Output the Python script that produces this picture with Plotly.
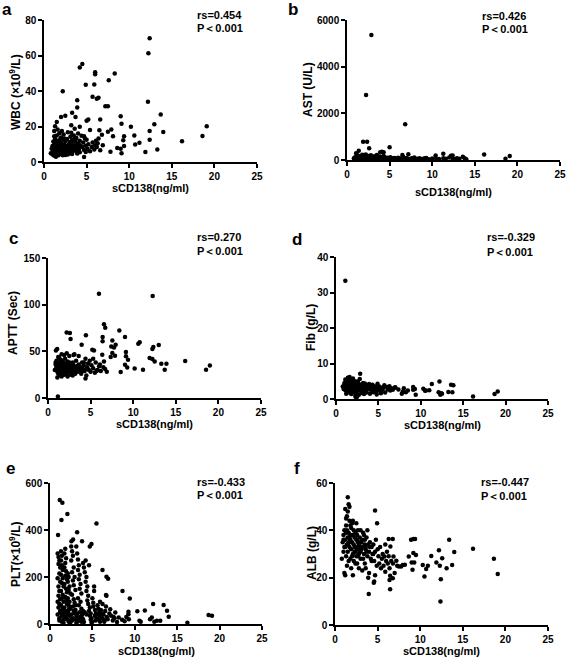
import plotly.graph_objects as go

# ---------------- data ----------------
wbc_x = [
0.8,0.9,1.0,1.0,1.1,1.1,1.2,1.2,1.3,1.3,
1.3,1.4,1.4,1.5,1.5,1.5,1.6,1.6,1.7,1.7,
1.8,1.8,1.8,1.9,1.9,2.0,2.0,2.0,2.1,2.1,
2.2,2.2,2.3,2.3,2.4,2.4,2.5,2.5,2.5,2.6,
2.7,2.7,2.8,2.8,2.9,2.9,3.0,3.0,3.1,3.1,
3.2,3.2,3.3,3.3,3.4,3.5,3.5,3.6,3.6,3.7,
3.8,3.8,3.9,4.0,4.0,4.1,4.2,4.2,4.3,4.4,
4.5,4.6,4.7,4.8,4.9,5.0,5.1,5.2,5.4,5.6,
5.7,5.9,6.0,6.1,6.3,1.1,1.2,1.4,1.6,1.7,
1.9,2.0,2.2,2.3,2.6,2.8,3.0,3.3,3.5,3.9,
1.0,1.2,1.5,1.8,2.1,2.4,2.7,3.2,3.6,4.1,
12.4,12.25,12.2,13.7,12.95,14.0,12.4,12.4,13.3,11.9,
16.2,18.6,19.1,10.2,10.6,10.7,11.2,9.0,9.1,9.4,
9.3,9.4,9.0,9.1,8.6,8.3,7.6,7.9,7.5,8.1,
7.8,7.2,7.5,6.8,6.9,6.6,6.5,6.6,6.0,6.0,
5.9,6.4,6.2,5.7,5.4,6.4,6.2,5.0,5.2,4.9,
4.5,4.2,2.2,3.9,3.9,3.3,3.7,2.5,2.0,1.5,
1.3,1.6,1.2,3.2,4.2,3.6,4.7,4.7,4.9]
wbc_y = [
5.0,7.5,4.2,9.0,6.1,11.5,3.5,8.2,5.8,13.0,
7.0,4.8,10.2,6.5,8.8,15.0,5.2,12.0,3.8,9.5,
6.8,11.0,16.2,5.5,8.0,4.5,10.5,13.8,7.2,9.8,
5.8,12.5,8.5,15.5,6.2,10.0,4.0,7.8,11.8,9.0,
5.5,13.0,7.5,16.8,9.8,6.0,11.2,8.2,5.0,14.2,
7.0,10.5,5.8,12.2,8.8,6.5,15.0,9.5,7.2,11.5,
6.0,13.5,8.0,10.2,16.0,7.0,12.0,5.5,9.0,14.8,
8.5,11.0,6.8,13.2,9.2,12.5,7.5,10.0,6.0,8.5,
11.0,7.0,9.5,12.0,10.5,6.8,10.8,3.0,7.6,5.0,
12.8,6.8,3.8,7.0,5.4,4.2,9.5,4.5,11.8,4.8,
8.0,14.5,10.8,8.5,17.5,13.2,8.8,16.5,13.5,9.8,
69.7,61.2,33.9,26.7,21.3,16.9,17.5,12.6,7.0,5.6,
11.7,14.7,20.1,19.8,15.0,9.8,10.9,25.8,21.6,14.5,
12.2,9.0,7.5,5.0,7.9,49.9,46.1,18.3,17.0,14.5,
5.8,31.4,31.4,15.3,9.4,23.9,17.9,6.6,50.5,49.5,
43.7,36.2,35.6,36.7,18.0,13.2,8.5,23.2,23.9,43.5,
55.2,53.3,39.9,34.8,30.7,27.7,25.4,26.0,25.4,22.6,
20.1,18.3,17.5,20.7,19.8,18.8,14.5,2.8,5.6]

ast_x = [
0.8,0.9,1.0,1.1,1.2,1.2,1.3,1.4,1.5,1.5,
1.6,1.7,1.8,1.8,1.9,2.0,2.0,2.1,2.2,2.2,
2.3,2.4,2.4,2.5,2.6,2.6,2.7,2.8,2.9,3.0,
3.0,3.1,3.2,3.3,3.4,3.5,3.5,3.6,3.7,3.8,
3.9,4.0,4.1,4.2,4.3,4.4,4.5,4.6,4.8,5.0,
5.1,5.3,5.5,5.6,5.8,6.0,6.2,6.4,6.6,6.8,
7.0,7.3,7.6,7.9,8.2,8.5,8.8,9.1,9.3,9.6,
10.0,10.4,10.8,11.3,11.6,12.0,12.2,12.4,12.6,12.9,
13.2,13.6,13.8,14.0,1.0,1.3,1.6,1.9,2.1,2.5,
2.8,3.2,3.6,4.0,4.7,5.2,6.1,6.9,8.0,9.4,
2.86,2.24,6.83,1.89,2.36,2.6,5.0,1.38,1.07,3.9,
4.3,6.5,7.2,16.1,19.1,18.6,12.4,11.3,10.4,4.1]
ast_y = [
60,110,40,150,80,200,55,120,90,170,
45,130,75,230,100,60,160,85,120,240,
50,95,180,70,140,35,110,200,65,130,
90,55,160,80,120,45,210,100,70,150,
60,130,90,50,170,75,110,40,95,60,
120,70,40,90,55,100,80,45,130,60,
90,40,70,110,50,80,40,70,90,35,
60,90,45,80,55,110,180,60,30,75,
50,140,70,35,20,30,25,15,20,25,
20,30,15,25,30,20,25,30,20,15,
5357,2786,1530,784,784,500,543,400,286,330,
330,214,243,240,170,57,198,269,198,350]

aptt_x = [
0.8,0.9,1.0,1.0,1.1,1.1,1.2,1.2,1.3,1.3,
1.4,1.4,1.5,1.5,1.5,1.6,1.6,1.7,1.7,1.8,
1.8,1.9,1.9,2.0,2.0,2.1,2.1,2.2,2.2,2.3,
2.3,2.4,2.4,2.5,2.5,2.6,2.7,2.7,2.8,2.9,
3.0,3.0,3.1,3.2,3.3,3.3,3.4,3.5,3.6,3.7,
3.8,3.9,4.0,4.1,4.2,4.3,4.4,4.5,4.6,4.7,
4.8,5.0,5.1,5.3,5.5,5.6,5.8,6.0,6.2,6.5,
6.7,6.9,1.1,1.3,1.6,1.9,2.2,2.6,3.1,3.6,
4.2,4.9,5.7,1.2,1.4,1.7,2.0,2.4,2.9,3.4,
4.0,4.6,5.3,6.1,1.0,1.5,1.8,2.3,2.8,3.5,
1.3,1.9,2.5,3.2,3.9,4.4,0.9,1.6,2.1,2.7,
5.98,12.29,6.57,6.72,8.37,2.19,2.57,2.65,4.45,6.41,
6.41,7.55,9.04,7.94,7.43,7.75,10.6,10.76,13.0,12.25,
12.36,3.95,5.2,5.4,1.08,0.93,7.55,7.36,9.15,9.15,
9.39,11.93,12.25,12.52,13.3,13.9,13.7,16.1,18.55,19.0,
11.15,10.17,8.53,9.04,9.3,1.16,7.86,6.37,6.57,3.0]
aptt_y = [
30,36,33,40,28,35,31,44,26,38,
33,29,36,24,41,31,35,28,39,33,
27,37,30,34,42,29,32,36,26,39,
31,34,28,45,33,30,36,25,32,38,
29,35,33,27,31,40,34,28,36,30,
33,26,38,31,35,29,42,24,33,37,
30,28,35,32,27,38,30,34,29,33,
31,28,22,43,47,46,48,34,47,45,
38,40,29,26,31,25,37,30,24,32,
29,31,42,36,35,27,33,23,27,30,
32,25,38,26,31,21,38,23,36,29,
111.7,109.3,78.9,75.3,72.4,70.3,69.6,63.2,67.1,65.3,
60.7,61.7,65.3,57.1,55.3,54.2,58.2,59.6,56.8,52.5,
54.6,57.1,51.7,51.0,52.5,51.0,48.2,43.9,49.3,44.6,
41.0,42.9,41.8,39.2,36.7,36.7,30.3,39.6,30.3,34.9,
30.3,31.7,27.9,35.7,32.8,1.7,45.3,46.4,39.2,46.0]

fib_x = [
0.8,0.9,1.0,1.0,1.1,1.1,1.2,1.2,1.3,1.3,
1.4,1.4,1.5,1.5,1.6,1.6,1.7,1.7,1.8,1.8,
1.9,1.9,2.0,2.0,2.1,2.1,2.2,2.2,2.3,2.3,
2.4,2.4,2.5,2.5,2.6,2.6,2.7,2.8,2.8,2.9,
3.0,3.0,3.1,3.2,3.2,3.3,3.4,3.5,3.5,3.6,
3.7,3.8,3.9,4.0,4.1,4.2,4.3,4.4,4.5,4.6,
4.7,4.8,4.9,5.0,5.1,5.2,5.4,5.5,5.7,5.8,
6.0,6.1,6.2,6.4,6.5,6.7,6.9,1.2,1.5,1.8,
2.1,2.4,2.7,3.0,3.3,3.6,4.0,4.4,4.8,5.3,
2.3,2.4,2.5,2.3,1.0,1.4,1.7,2.0,2.6,3.1,
3.4,3.9,4.3,4.9,5.6,6.3,1.3,1.6,1.9,2.2,
1.1,2.85,19.07,18.7,16.16,13.57,13.84,13.25,13.72,12.2,
12.4,12.3,12.1,11.3,10.3,10.6,9.3,9.4,9.1,8.47,
8.23,7.76,7.88,7.36,9.1,10.5,11.0,12.5,8.0,7.0]
fib_y = [
3.5,2.8,4.2,3.0,5.5,2.5,3.8,4.8,2.2,3.3,
6.0,3.6,2.9,4.5,3.2,6.2,2.6,4.0,3.4,5.2,
2.4,3.7,4.6,3.0,2.2,4.1,3.5,5.0,2.8,3.9,
4.4,2.6,3.3,4.9,2.3,3.6,4.2,3.0,5.6,2.7,
3.8,2.4,3.2,4.5,2.0,3.5,2.8,4.0,3.1,2.5,
3.6,2.9,4.2,3.3,2.6,3.9,2.2,3.0,3.6,2.7,
3.3,2.1,4.3,2.8,3.5,2.4,3.2,2.6,3.9,1.8,
3.4,2.7,3.1,2.4,3.0,2.6,3.2,1.5,1.8,1.4,
1.9,1.6,1.2,1.7,1.4,1.8,1.5,1.9,1.3,1.6,
0.6,0.4,0.7,1.0,4.5,4.9,5.3,5.8,4.6,4.1,
4.4,3.8,4.0,3.7,3.3,3.6,2.0,2.1,2.4,2.0,
33.3,7.1,2.1,1.4,0.7,4.0,3.9,2.0,1.9,4.9,
1.6,1.2,1.9,4.2,2.9,2.4,2.8,1.2,2.6,2.4,
1.9,1.5,2.1,2.7,3.4,2.3,2.5,1.5,3.0,3.3]

plt_x = [
0.9,1.0,1.1,1.0,1.2,1.1,0.9,1.2,1.0,1.1,
1.0,1.2,0.9,1.1,1.0,1.2,0.9,1.1,1.3,1.4,
1.3,1.4,1.5,1.3,1.5,1.4,1.6,1.3,1.5,1.4,
1.6,1.3,1.5,1.7,1.4,1.6,1.8,1.7,1.9,1.8,
1.7,1.9,1.8,2.0,1.7,1.9,2.0,1.8,1.9,2.0,
1.7,1.8,2.0,1.9,2.1,2.2,2.1,2.3,2.2,2.4,
2.1,2.3,2.2,2.4,2.1,2.3,2.5,2.2,2.4,2.6,
2.5,2.6,2.7,2.5,2.8,2.6,2.9,2.7,2.8,3.0,
2.6,2.8,2.9,2.7,3.0,2.9,3.1,3.0,3.2,3.1,
3.1,3.2,3.3,3.4,3.3,3.5,3.4,3.6,3.5,3.7,
3.3,3.6,3.4,3.7,3.5,3.8,3.6,3.9,3.7,4.0,
3.9,4.0,4.2,4.1,4.3,4.2,4.4,4.3,4.5,4.4,
4.6,4.5,4.7,4.6,4.8,4.7,4.9,4.8,5.0,4.9,
5.0,5.1,5.2,5.1,5.3,5.2,5.4,5.3,5.5,5.4,
5.6,5.7,5.8,5.7,5.9,5.8,6.0,5.9,6.1,6.0,
6.2,6.3,6.4,6.5,6.7,6.8,7.0,7.2,7.4,7.6,
1.2,1.5,1.8,2.2,2.5,2.8,3.2,3.5,3.9,4.3,
1.1,1.4,1.6,2.0,2.3,2.7,3.0,3.4,3.8,4.1,
1.15,1.46,2.05,1.35,5.48,0.95,3.2,2.72,2.53,3.78,
4.89,4.69,6.19,6.66,6.85,8.55,9.41,6.66,12.16,13.4,
11.18,18.7,19.1,16.2,13.8,14.0,12.0,12.6,13.0,10.3,
10.55,9.25,9.25,7.7,8.1,7.1,6.6,5.9,6.2,6.6,
10.7,11.8,12.3,9.3,8.5,7.5,7.9,8.8,9.0,6.4]
plt_y = [
300,285,270,255,240,215,195,180,160,140,
120,105,95,85,70,55,40,25,310,290,
270,250,230,210,195,175,160,140,125,110,
95,80,65,50,35,20,320,300,280,260,
240,225,205,190,170,150,135,115,100,85,
70,55,40,25,215,200,180,160,145,130,
110,95,80,65,50,35,20,10,5,15,
330,310,290,270,240,220,200,185,165,145,
125,105,90,75,60,45,30,20,10,5,
330,300,275,250,230,210,190,170,150,130,
110,95,80,65,50,40,30,20,10,8,
260,240,270,220,200,180,160,140,120,100,
250,85,70,55,45,35,25,18,10,5,
110,90,160,75,60,140,45,35,25,15,
80,65,50,40,30,20,60,10,45,35,
25,40,15,55,30,20,45,35,15,25,
50,45,35,60,40,55,45,30,55,40,
15,10,5,20,70,25,80,15,25,50,
528,516,468,443,428,379,390,360,352,352,
340,330,230,201,193,140,109,120,85,81,
57,38,35,5,56,31,28,14,14,54,
14,52,42,49,28,63,75,95,85,123,
10,20,10,20,18,30,8,12,30,10]

alb_x = [
0.8,0.9,1.0,1.0,1.1,1.1,1.2,1.2,1.3,1.3,
1.4,1.4,1.5,1.5,1.6,1.6,1.7,1.7,1.8,1.8,
1.9,1.9,2.0,2.0,2.1,2.1,2.2,2.2,2.3,2.3,
2.4,2.4,2.5,2.5,2.6,2.6,2.7,2.7,2.8,2.8,
2.9,3.0,3.0,3.1,3.2,3.2,3.3,3.4,3.5,3.5,
3.6,3.7,3.8,3.9,4.0,4.0,4.1,4.2,4.3,4.4,
4.5,4.6,4.7,4.8,4.9,5.0,5.1,5.2,5.3,5.5,
5.6,5.7,5.9,6.0,6.1,6.2,6.3,6.4,6.6,6.8,
1.1,1.2,1.3,1.4,1.5,1.6,1.7,1.8,1.9,2.0,
2.1,2.2,2.4,2.6,2.8,3.0,3.2,3.4,3.6,3.8,
1.0,1.2,1.4,1.6,1.8,2.0,2.3,2.5,2.7,2.9,
3.1,3.3,3.5,3.7,3.9,4.1,4.3,4.5,4.7,5.4,
1.3,1.5,1.7,1.9,2.1,2.4,2.6,2.8,3.0,3.6,
12.38,12.42,12.2,12.58,12.3,13.4,13.1,13.75,14.0,16.2,
18.65,19.1,11.9,11.3,10.3,10.5,10.7,8.93,9.2,9.4,
9.2,9.5,9.3,9.0,9.1,8.66,7.95,7.76,7.3,7.5,
7.2,6.86,6.78,6.3,6.5,6.47,6.4,6.47,6.78,5.8,
4.55,4.6,3.96,4.7,4.94,1.5,8.2,7.0,5.9,10.9]
alb_y = [
28,35,38,31,40,33,49,36,29,42,
34,46,31,37,51,39,33,44,28,36,
41,32,35,38,30,44,34,27,37,31,
33,39,29,36,32,26,35,40,30,34,
37,31,28,35,33,23,39,30,34,26,
32,37,29,34,31,22,35,28,33,30,
34,27,31,36,25,32,29,26,33,28,
30,25,34,27,31,26,29,24,27,26,
22,21,45,25,48,27,50,42,24,43,
21,40,26,38,24,40,36,38,24,40,
36,33,40,35,38,29,33,43,29,31,
32,28,36,31,20,33,27,30,21,24,
39,34,37,35,38,31,36,33,35,33,
9.9,19.3,31.6,28.2,25.0,36.0,24.0,25.4,30.8,32.2,
28.0,21.6,26.4,29.2,25.4,20.5,23.7,36.0,36.3,36.3,
30.4,29.6,26.4,26.4,23.3,28.9,25.4,24.7,25.0,24.7,
27.2,28.9,36.3,36.3,33.2,20.8,19.0,15.1,19.8,28.9,
17.9,18.4,13.1,48.4,43.0,54.0,25.5,22.0,22.5,25.0]

x_ticks = [0, 5, 10, 15, 20, 25]
x_title = "sCD138(ng/ml)"
panel_letters = ["a", "b", "c", "d", "e", "f"]
y_titles = ["WBC (×10<sup>9</sup>/L)", "AST (U/L)", "APTT (Sec)", "Fib (g/L)",
            "PLT(×10<sup>9</sup>/L)", "ALB (g/L)"]
rs_texts = ["rs=0.454", "rs=0.426", "rs=0.270", "rs=-0.329", "rs=-0.433", "rs=-0.447"]
p_text = "P＜0.001"
y_maxes = [80, 6000, 150, 40, 600, 60]
y_dticks = [20, 2000, 50, 10, 200, 20]

# ---------------- layout geometry (pixels) ----------------
W, H = 567, 659
def fx(p): return p / W
def fy(p): return 1 - p / H

panels = [
    dict(x=wbc_x, y=wbc_y, xd=(44, 257), yd=(20, 162), letter=(7, 10), rs=(195, 15, 28), xt=188, yt=(15, 92)),
    dict(x=ast_x, y=ast_y, xd=(347, 560), yd=(20, 160), letter=(293, 10), rs=(480, 16, 29), xt=192, yt=(308, 90)),
    dict(x=aptt_x, y=aptt_y, xd=(48, 261), yd=(258, 398), letter=(13, 238), rs=(195, 237, 251), xt=424, yt=(13, 323)),
    dict(x=fib_x, y=fib_y, xd=(336, 548), yd=(257, 399), letter=(297, 239), rs=(485, 237, 252), xt=425, yt=(311, 328)),
    dict(x=plt_x, y=plt_y, xd=(50, 262), yd=(483, 624), letter=(10, 468), rs=(195, 482, 495), xt=651, yt=(15, 555)),
    dict(x=alb_x, y=alb_y, xd=(335, 548), yd=(483, 625), letter=(297, 468), rs=(479, 482, 496), xt=651, yt=(312, 553)),
]

FONT = "Liberation Sans, Arial, sans-serif"
fig = go.Figure()
annotations = []
for i, p in enumerate(panels):
    n = "" if i == 0 else str(i + 1)
    fig.add_trace(go.Scatter(
        x=p["x"], y=p["y"], mode="markers",
        marker=dict(color="black", size=4.5, line=dict(width=0)),
        xaxis="x" + n, yaxis="y" + n, cliponaxis=False, showlegend=False,
        hoverinfo="x+y"))
    axis_common = dict(showline=True, linecolor="black", linewidth=1.5,
                       ticks="outside", ticklen=4, tickwidth=1.5, tickcolor="black",
                       showgrid=False, zeroline=False, fixedrange=True, automargin=False,
                       tickfont=dict(family=FONT, size=10, color="black", weight="bold"))
    fig.layout["xaxis" + n] = dict(domain=[fx(p["xd"][0]), fx(p["xd"][1])], anchor="y" + n,
                                   range=[0, 25], tickvals=x_ticks, **axis_common)
    fig.layout["yaxis" + n] = dict(domain=[fy(p["yd"][1]), fy(p["yd"][0])], anchor="x" + n,
                                   range=[0, y_maxes[i]], dtick=y_dticks[i], tick0=0,
                                   **axis_common)
    lx, ly = p["letter"]
    annotations.append(dict(x=fx(lx), y=fy(ly), xref="paper", yref="paper", text="<b>%s</b>" % panel_letters[i],
                            showarrow=False, xanchor="center", yanchor="middle",
                            font=dict(family=FONT, size=17, color="black")))
    rx, ry1, ry2 = p["rs"]
    annotations.append(dict(x=fx(rx), y=fy(ry1), xref="paper", yref="paper", text="<b>%s</b>" % rs_texts[i],
                            showarrow=False, xanchor="left", yanchor="middle",
                            font=dict(family=FONT, size=11, color="black")))
    annotations.append(dict(x=fx(rx), y=fy(ry2), xref="paper", yref="paper", text="<b>%s</b>" % p_text,
                            showarrow=False, xanchor="left", yanchor="middle",
                            font=dict(family=FONT, size=11, color="black")))
    annotations.append(dict(x=fx((p["xd"][0] + p["xd"][1]) / 2), y=fy(p["xt"]), xref="paper", yref="paper",
                            text="<b>%s</b>" % x_title, showarrow=False, xanchor="center", yanchor="middle",
                            font=dict(family=FONT, size=11, color="black")))
    tx, ty = p["yt"]
    annotations.append(dict(x=fx(tx), y=fy(ty), xref="paper", yref="paper", text="<b>%s</b>" % y_titles[i],
                            showarrow=False, xanchor="center", yanchor="middle", textangle=-90,
                            font=dict(family=FONT, size=12, color="black")))

fig.update_layout(width=W, height=H, margin=dict(l=0, r=0, t=0, b=0),
                  paper_bgcolor="white", plot_bgcolor="white", template="none",
                  annotations=annotations, showlegend=False)
fig.write_html("out.html", config={"displayModeBar": False},
               post_script="document.body.style.margin='0';document.body.style.overflow='hidden';")
